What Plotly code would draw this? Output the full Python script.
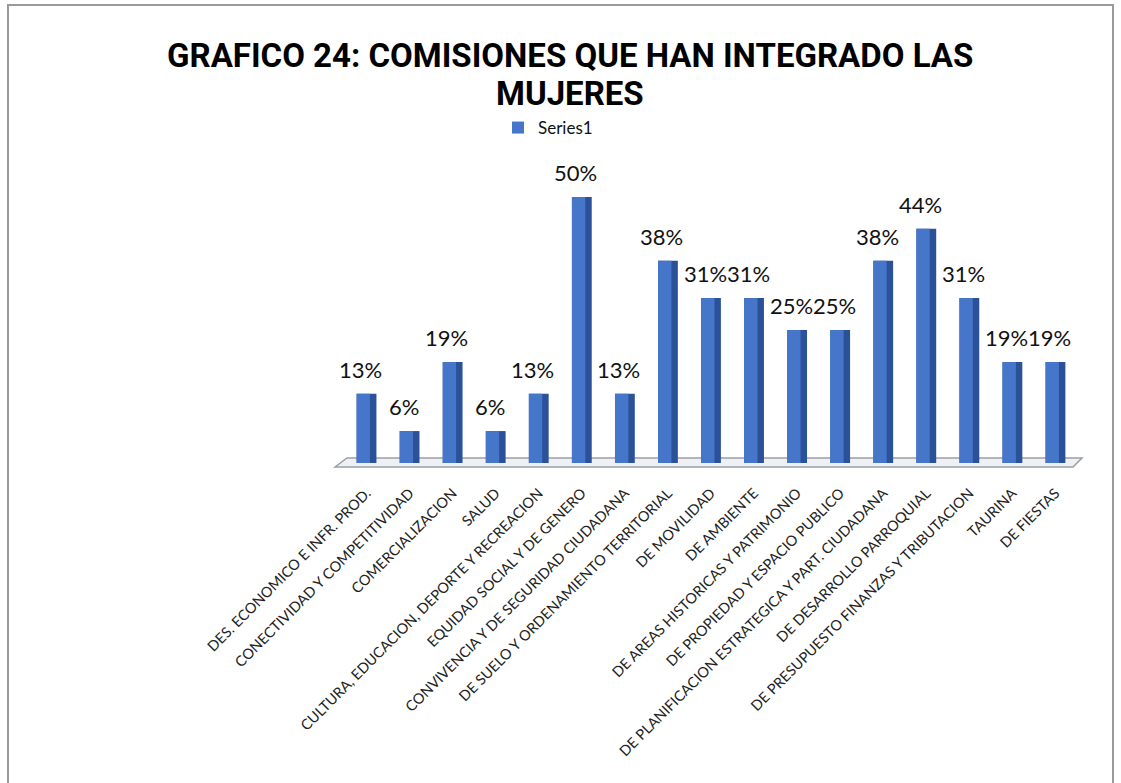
import plotly.graph_objects as go

categories = [
    "DES. ECONOMICO E INFR. PROD.",
    "CONECTIVIDAD Y COMPETITIVIDAD",
    "COMERCIALIZACION",
    "SALUD",
    "CULTURA, EDUCACION, DEPORTE Y RECREACION",
    "EQUIDAD SOCIAL Y DE GENERO",
    "CONVIVENCIA Y DE SEGURIDAD CIUDADANA",
    "DE SUELO Y ORDENAMIENTO TERRITORIAL",
    "DE MOVILIDAD",
    "DE AMBIENTE",
    "DE AREAS HISTORICAS Y PATRIMONIO",
    "DE PROPIEDAD Y ESPACIO PUBLICO",
    "DE PLANIFICACION ESTRATEGICA Y PART. CIUDADANA",
    "DE DESARROLLO PARROQUIAL",
    "DE PRESUPUESTO FINANZAS Y TRIBUTACION",
    "TAURINA",
    "DE FIESTAS",
]
values = [13, 6, 19, 6, 13, 50, 13, 38, 31, 31, 25, 25, 38, 44, 31, 19, 19]
series_name = "Series1"
title_lines = ["GRAFICO 24: COMISIONES QUE HAN INTEGRADO LAS", "MUJERES"]

W, H = 1121, 783
L, R, T, B = 345, 44, 165, 320
PW = W - L - R
PH = H - T - B


def px(x):
    return (x - L) / PW


def py(y):
    return (H - B - y) / PH


fig = go.Figure()
# darker side of each bar
fig.add_trace(go.Bar(
    x=categories, y=values, width=0.46,
    marker=dict(color="#2B5299", line=dict(width=0)),
    showlegend=False, hoverinfo="skip",
))
# lighter front of each bar
fig.add_trace(go.Bar(
    x=categories, y=values, width=0.31, offset=-0.23,
    name=series_name,
    marker=dict(color="#4676CA", line=dict(width=0)),
))

label_annotations = [
    dict(x=c, y=v, xref="x", yref="y", text=f"{v}%", showarrow=False,
         xanchor="center", yanchor="bottom", yshift=9, xshift=-6,
         font=dict(family="Lato", size=22, color="#111111"))
    for c, v in zip(categories, values)
]

title_annotations = [
    dict(text="<b>" + line + "</b>", xref="paper", yref="paper",
         x=px(570), y=py(yc), xanchor="center", yanchor="middle", showarrow=False,
         font=dict(family="Roboto", size=33, color="#000000"))
    for line, yc in zip(title_lines, [55, 94])
]

floor_pts = [(335, 467), (347, 458), (1082, 458), (1073, 467)]
path = "M " + " L ".join(f"{px(a):.5f},{py(b):.5f}" for a, b in floor_pts) + " Z"

fig.update_layout(
    width=W, height=H,
    margin=dict(l=L, r=R, t=T, b=B, autoexpand=False),
    paper_bgcolor="white", plot_bgcolor="white",
    barmode="overlay",
    showlegend=True,
    legend=dict(x=px(548), y=py(128), xanchor="center", yanchor="middle",
                orientation="h", font=dict(family="Lato", size=17, color="#111111"),
                itemwidth=30),
    xaxis=dict(tickangle=-45, tickfont=dict(family="Lato", size=14.5, color="#222222"),
               range=[-0.5, len(categories) - 0.5], ticklabelstandoff=18,
               showgrid=False, showline=False, ticks="", automargin=False),
    yaxis=dict(range=[0, 56], visible=False, automargin=False),
    shapes=[
        dict(type="path", xref="paper", yref="paper", path=path,
             fillcolor="#EEF0F4", line=dict(color="#9A9EA6", width=1.5), layer="below"),
        dict(type="rect", xref="paper", yref="paper",
             x0=px(8), x1=px(1113), y0=py(795), y1=py(5),
             line=dict(color="#9A9A9A", width=2), fillcolor="rgba(0,0,0,0)"),
    ],
    annotations=label_annotations + title_annotations,
)

fig.write_html("out.html", config={"displayModeBar": False},
               post_script="document.body.style.margin='0';")
